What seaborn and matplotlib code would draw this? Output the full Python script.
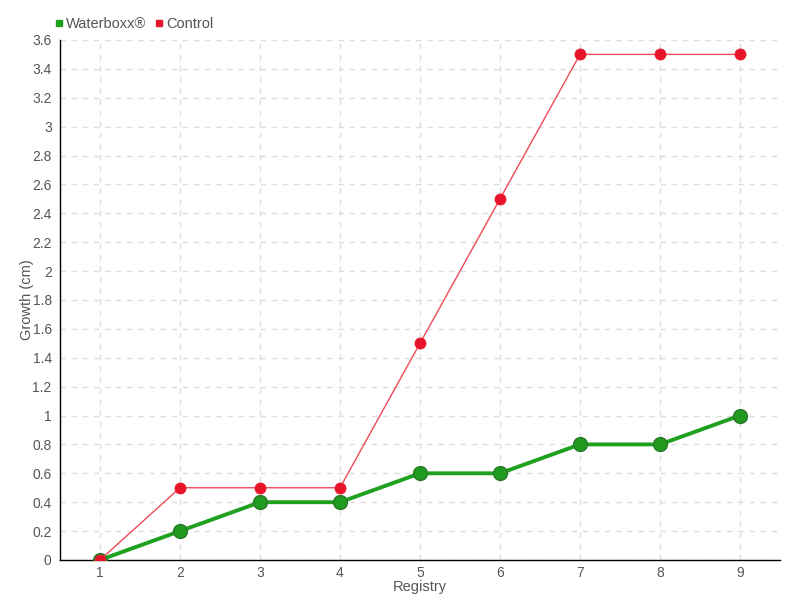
import numpy as np
import pandas as pd
import matplotlib
matplotlib.use("Agg")
import matplotlib.pyplot as plt
import seaborn as sns
from matplotlib.ticker import MultipleLocator, FuncFormatter
from matplotlib.lines import Line2D

# --- DATA ---
registry = [1, 2, 3, 4, 5, 6, 7, 8, 9]
waterboxx = [0, 0.2, 0.4, 0.4, 0.6, 0.6, 0.8, 0.8, 1.0]
control = [0, 0.5, 0.5, 0.5, 1.5, 2.5, 3.5, 3.5, 3.5]

sns.set_style("white")
plt.rcParams['font.family'] = ['Liberation Sans', 'DejaVu Sans']
text_col = '#555555'

fig = plt.figure(figsize=(8, 6), dpi=100)
ax = fig.add_axes([0.075, 0.0667, 0.9, 0.8667])

sns.lineplot(x=registry, y=waterboxx, ax=ax, color='#1fa01f', linewidth=2.8,
             marker='o', markersize=10, markerfacecolor='#1f9a1f',
             markeredgecolor='#2a7a2a', markeredgewidth=1, zorder=3)
sns.lineplot(x=registry, y=control, ax=ax, color='#f04a5a', linewidth=1,
             marker='o', markersize=8, markerfacecolor='#e8142a',
             markeredgecolor='#e8142a', markeredgewidth=0.5, zorder=4)

ax.set_xlim(0.5, 9.5)
ax.set_ylim(0, 3.6)
ax.xaxis.set_major_locator(MultipleLocator(1))
ax.yaxis.set_major_locator(MultipleLocator(0.2))
ax.yaxis.set_major_formatter(FuncFormatter(lambda v, p: f"{round(v, 1):g}"))

ax.grid(True, color='#dddddd', linestyle=(0, (4, 4)), linewidth=1)
for s in ['top', 'right']:
    ax.spines[s].set_visible(False)
for s in ['left', 'bottom']:
    ax.spines[s].set_color('black')
    ax.spines[s].set_linewidth(1)

ax.tick_params(axis='both', colors='black', labelcolor=text_col, labelsize=10,
               length=4, width=1, direction='out')
ax.tick_params(axis='y', pad=2)
ax.tick_params(axis='x', pad=1, length=3)

ax.set_xlabel('Registry', color=text_col, fontsize=10.5, labelpad=0)
ax.set_ylabel('Growth (cm)', color=text_col, fontsize=10.5)
ax.yaxis.set_label_coords(-0.036, 0.5)

handles = [Line2D([], [], linestyle='none', marker='s', markersize=5, color='#1fa01f'),
           Line2D([], [], linestyle='none', marker='s', markersize=5, color='#e8142a')]
ax.legend(handles, ['Waterboxx®', 'Control'], loc='lower left',
          bbox_to_anchor=(-0.02, 1.0), ncol=2, frameon=False, fontsize=10.5,
          handlelength=0.6, handletextpad=0.2, columnspacing=0.6,
          labelcolor=text_col, borderaxespad=0.2)

fig.savefig('out.png', dpi=100)
